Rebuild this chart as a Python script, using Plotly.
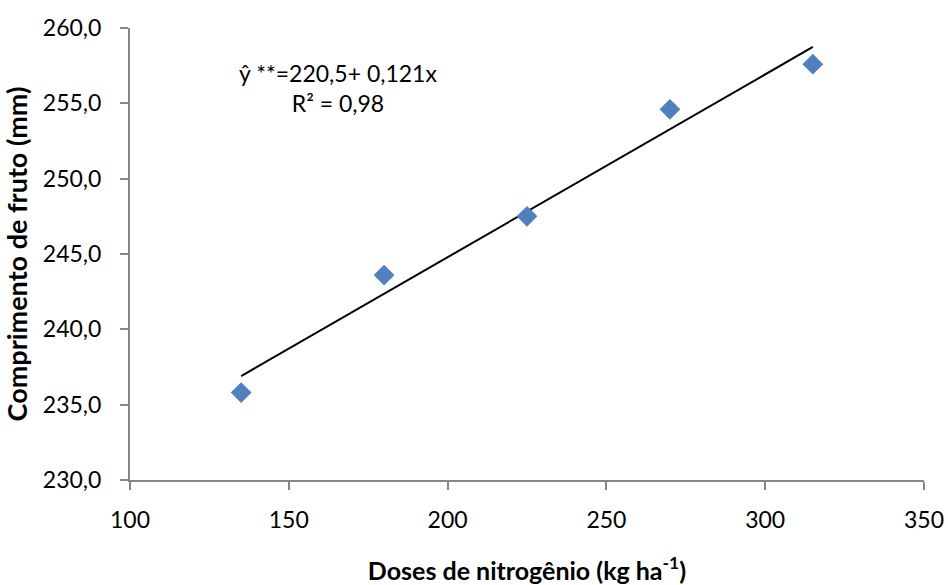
import numpy as np
import plotly.graph_objects as go

doses = [135, 180, 225, 270, 315]
comprimento = [235.8, 243.6, 247.5, 254.6, 257.6]
x_ticks = [100, 150, 200, 250, 300, 350]
y_ticks = [230, 235, 240, 245, 250, 255, 260]

slope, intercept = np.polyfit(doses, comprimento, 1)
trend_x = [doses[0], doses[-1]]
trend_y = [intercept + slope * v for v in trend_x]

font = "Lato, Carlito, 'Liberation Sans', sans-serif"

fig = go.Figure()
fig.add_trace(go.Scatter(x=trend_x, y=trend_y, mode="lines",
                         line=dict(color="black", width=2), showlegend=False))
fig.add_trace(go.Scatter(x=doses, y=comprimento, mode="markers",
                         marker=dict(symbol="diamond", size=16, color="#4F81BD",
                                     line=dict(width=0)), showlegend=False))

fig.add_annotation(x=0.262, y=0.867, xref="paper", yref="paper",
                   xanchor="center", yanchor="middle",
                   text="ŷ **=220,5+ 0,121x<br>R² = 0,98", showarrow=False,
                   align="center", font=dict(family=font, size=23, color="black"))

fig.update_layout(
    width=948, height=585,
    margin=dict(l=130, r=24, t=28, b=105, autoexpand=False),
    plot_bgcolor="white", paper_bgcolor="white",
    separators=",.",
    font=dict(family=font, size=23, color="black"),
    xaxis=dict(range=[100, 350], tickvals=x_ticks, showgrid=False, zeroline=False,
               showline=True, linecolor="#868686", linewidth=2, automargin=False,
               ticks="outside", ticklen=8, tickcolor="#868686", tickwidth=2,
               tickfont=dict(size=23), ticklabelstandoff=10,
               title=dict(text="<b>Doses de nitrogênio (kg ha<sup>-1</sup>)</b>",
                          font=dict(size=25), standoff=34)),
    yaxis=dict(range=[230, 260], tickvals=y_ticks, tickformat=".1f",
               showgrid=False, zeroline=False, automargin=False,
               showline=True, linecolor="#868686", linewidth=2,
               ticks="outside", ticklen=8, tickcolor="#868686", tickwidth=2,
               tickfont=dict(size=23), ticklabelstandoff=14,
               title=dict(text="<b>Comprimento de fruto (mm)</b>",
                          font=dict(size=27), standoff=10)),
)

fig.write_html("out.html")
